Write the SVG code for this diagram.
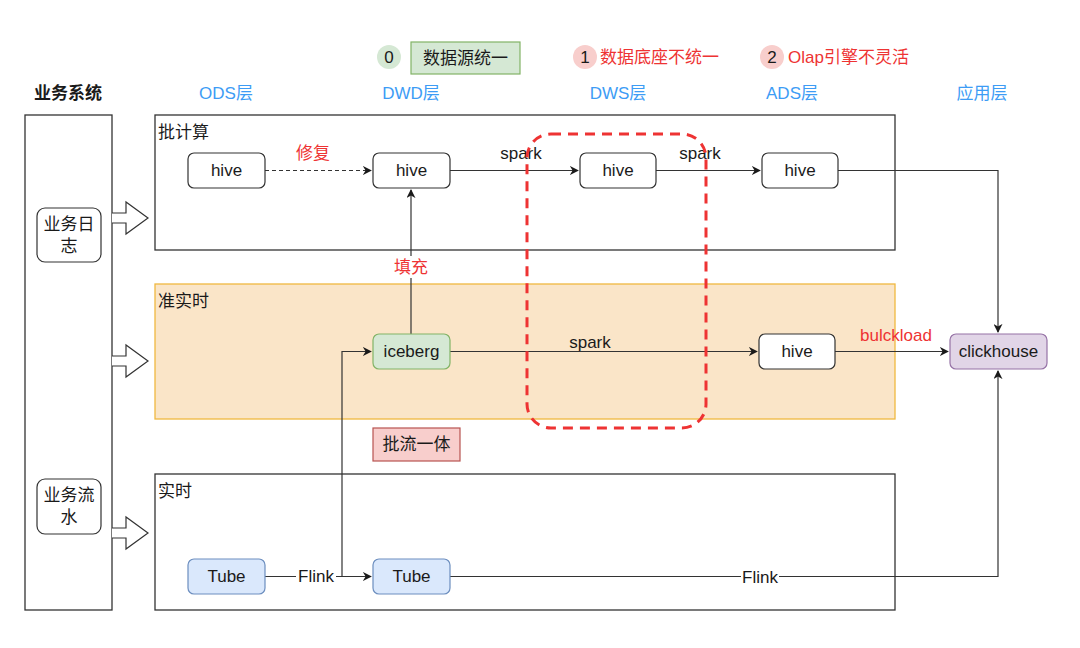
<svg xmlns="http://www.w3.org/2000/svg" width="1080" height="648" viewBox="0 0 1080 648">
<defs>
<style>
text{font-family:"Liberation Sans","Noto Sans CJK SC",Arial,sans-serif;font-size:17px;fill:#1a1a1a}
.c{text-anchor:middle;dominant-baseline:central}
.red{fill:#ee3333}
.blue{fill:#3d9cf5}
.box{fill:#fff;stroke:#333;stroke-width:1.3}
.node{stroke:#333;stroke-width:1.2}
.ln{fill:none;stroke:#333;stroke-width:1.2}
.lbl{fill:#fff}
</style>
<marker id="ah" viewBox="0 0 10 10" refX="9" refY="5" markerWidth="9" markerHeight="9" orient="auto" markerUnits="userSpaceOnUse">
<path d="M0,0 L10,5 L0,10 L3,5 Z" fill="#1a1a1a"/>
</marker>
</defs>
<rect width="1080" height="648" fill="#fff"/>

<g id="legend">
<circle cx="389" cy="57" r="12" fill="#d5e8d4"/>
<text class="c" x="389" y="57">0</text>
<rect x="411" y="42" width="109" height="32" fill="#d5e8d4" stroke="#82b366" stroke-width="1.2"/>
<text class="c" x="465.5" y="58">数据源统一</text>
<circle cx="585" cy="57" r="12" fill="#f8cecc"/>
<text class="c" x="585" y="57">1</text>
<text class="red" x="600" y="63">数据底座不统一</text>
<circle cx="772" cy="57" r="12" fill="#f8cecc"/>
<text class="c" x="772" y="57">2</text>
<text class="red" x="788" y="63">Olap引擎不灵活</text>
</g>

<g id="headers">
<text class="c" x="68" y="93" style="font-weight:bold">业务系统</text>
<text class="c blue" x="226" y="93">ODS层</text>
<text class="c blue" x="411" y="93">DWD层</text>
<text class="c blue" x="618" y="93">DWS层</text>
<text class="c blue" x="792" y="93">ADS层</text>
<text class="c blue" x="982" y="93">应用层</text>
</g>

<g id="system">
<rect class="box" x="25" y="115" width="87" height="495"/>
</g>
<g id="log">
<rect class="node" x="37" y="208" width="64" height="54" rx="8" fill="#fff"/>
<text class="c" x="69" y="224">业务日</text>
<text class="c" x="69" y="246">志</text>
</g>
<g id="flow">
<rect class="node" x="37" y="479" width="64" height="55" rx="8" fill="#fff"/>
<text class="c" x="69" y="495">业务流</text>
<text class="c" x="69" y="517">水</text>
</g>

<g id="batch">
<rect class="box" x="155" y="115" width="740" height="135"/>
<text x="158" y="138">批计算</text>
</g>
<g id="nearrt">
<rect x="155" y="284" width="740" height="135" fill="#fae5c8" stroke="#f0b840" stroke-width="1.3"/>
<text x="158" y="307">准实时</text>
</g>
<g id="realtime">
<rect class="box" x="155" y="474" width="740" height="136"/>
<text x="158" y="497">实时</text>
</g>

<g id="arrows-in" fill="#fff" stroke="#333" stroke-width="1.2">
<path d="M112,213 H126 V202 L148,218 L126,234 V223 H112"/>
<path d="M112,356 H126 V345 L148,361 L126,377 V366 H112"/>
<path d="M112,528 H126 V517 L148,533 L126,549 V538 H112"/>
</g>

<g id="connectors">
<path class="ln" d="M265,170.5 H371" stroke-dasharray="4 3" marker-end="url(#ah)"/>
<path class="ln" d="M450,170.5 H578" marker-end="url(#ah)"/>
<path class="ln" d="M656,170.5 H760" marker-end="url(#ah)"/>
<path class="ln" d="M838,170.5 H998 V332" marker-end="url(#ah)"/>
<path class="ln" d="M411,334 V190" marker-end="url(#ah)"/>
<path class="ln" d="M450,351.5 H757" marker-end="url(#ah)"/>
<path class="ln" d="M835,351.5 H948" marker-end="url(#ah)"/>
<path class="ln" d="M265,576.5 H371" marker-end="url(#ah)"/>
<path class="ln" d="M342,576.5 V351.5 H371" marker-end="url(#ah)"/>
<path class="ln" d="M450,576.5 H998 V371" marker-end="url(#ah)"/>
<rect class="lbl" x="390" y="256" width="42" height="22"/>
<text class="c red" x="411" y="267">填充</text>
<text class="c red" x="313" y="153">修复</text>
<text class="c" x="521" y="153">spark</text>
<text class="c" x="700" y="153">spark</text>
<text class="c" x="590" y="342">spark</text>
<text class="c red" x="896" y="335">bulckload</text>
<rect class="lbl" x="296" y="567" width="40" height="18"/>
<text class="c" x="316" y="576">Flink</text>
<rect class="lbl" x="741" y="568" width="38" height="18"/>
<text class="c" x="760" y="577">Flink</text>
</g>

<g id="hive-ods"><rect class="node" x="188" y="153" width="77" height="35" rx="6" fill="#fff"/><text class="c" x="226.5" y="170.5">hive</text></g>
<g id="hive-dwd"><rect class="node" x="373" y="153" width="77" height="35" rx="6" fill="#fff"/><text class="c" x="411.5" y="170.5">hive</text></g>
<g id="hive-dws"><rect class="node" x="580" y="153" width="76" height="35" rx="6" fill="#fff"/><text class="c" x="618" y="170.5">hive</text></g>
<g id="hive-ads"><rect class="node" x="762" y="153" width="76" height="35" rx="6" fill="#fff"/><text class="c" x="800" y="170.5">hive</text></g>
<g id="iceberg"><rect x="373" y="334" width="77" height="35" rx="6" fill="#d5e8d4" stroke="#82b366" stroke-width="1.2"/><text class="c" x="411.5" y="351.5">iceberg</text></g>
<g id="hive-rt"><rect class="node" x="759" y="334" width="76" height="35" rx="6" fill="#fff"/><text class="c" x="797" y="351.5">hive</text></g>
<g id="clickhouse"><rect x="950" y="334" width="97" height="35" rx="6" fill="#e1d5e7" stroke="#9673a6" stroke-width="1.2"/><text class="c" x="998.5" y="351.5">clickhouse</text></g>
<g id="tube1"><rect x="188" y="559" width="77" height="35" rx="6" fill="#dae8fc" stroke="#6c8ebf" stroke-width="1.2"/><text class="c" x="226.5" y="576.5">Tube</text></g>
<g id="tube2"><rect x="373" y="559" width="77" height="35" rx="6" fill="#dae8fc" stroke="#6c8ebf" stroke-width="1.2"/><text class="c" x="411.5" y="576.5">Tube</text></g>
<g id="pl"><rect x="373" y="428" width="87" height="33" fill="#f8cecc" stroke="#b85450" stroke-width="1.2"/><text class="c" x="416.5" y="444.5">批流一体</text></g>

<g id="highlight">
<rect x="527" y="134" width="179" height="294" rx="24" fill="none" stroke="#ee3333" stroke-width="3" stroke-dasharray="10 7"/>
</g>
</svg>
